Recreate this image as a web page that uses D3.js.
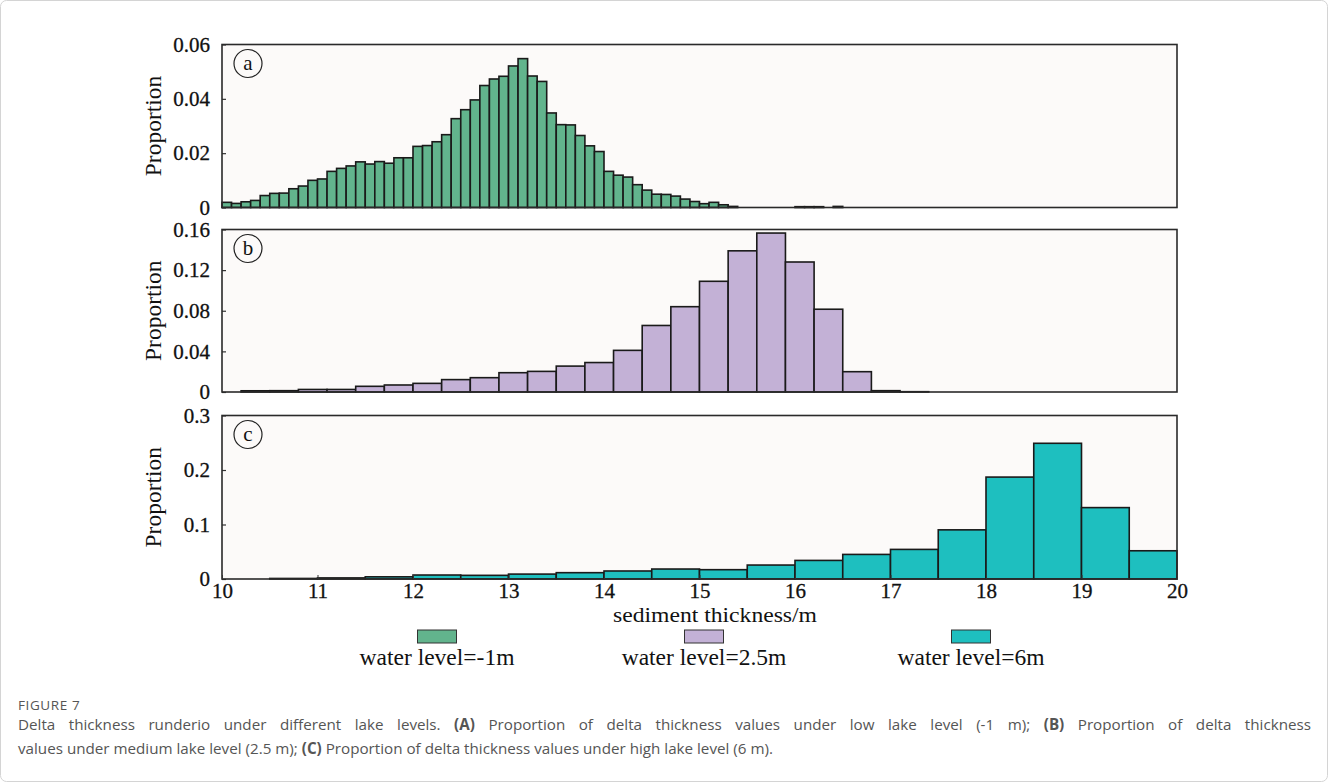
<!DOCTYPE html>
<html>
<head>
<meta charset="utf-8">
<script src="https://cdn.jsdelivr.net/npm/d3@7/dist/d3.min.js"></script>
<style>
  html, body { margin: 0; padding: 0; background: #ffffff; }
  svg { display: block; }
</style>
</head>
<body>
<svg id="fig" width="1328" height="782"></svg>
<script>
// Proportion of delta thickness per bin, water level = -1 m (bins of 0.1 m from 10 m)
const propLow = [
  0.0019, 0.0015, 0.0021, 0.0026, 0.0044, 0.0052, 0.0053, 0.0069, 0.0079, 0.0100,
  0.0105, 0.0133, 0.0144, 0.0153, 0.0168, 0.0160, 0.0169, 0.0163, 0.0183, 0.0183,
  0.0225, 0.0228, 0.0242, 0.0268, 0.0327, 0.0360, 0.0396, 0.0449, 0.0473, 0.0483,
  0.0521, 0.0548, 0.0484, 0.0464, 0.0348, 0.0305, 0.0304, 0.0265, 0.0227, 0.0206,
  0.0133, 0.0119, 0.0112, 0.0084, 0.0064, 0.0049, 0.0048, 0.0042, 0.0031, 0.0022,
  0.0014, 0.0019, 0.0010, 0.0004, 0, 0, 0, 0, 0, 0,
  0.0003, 0.0003, 0.0003, 0, 0.0004, 0, 0, 0, 0, 0,
  0, 0, 0, 0, 0, 0, 0, 0, 0, 0,
  0, 0, 0, 0, 0, 0, 0, 0, 0, 0,
  0, 0, 0, 0, 0, 0, 0, 0, 0, 0
];
const binStartLow = d3.range(propLow.length).map(i => +(10 + i * 0.1).toFixed(1));
const binWidthLow = 0.1;

// water level = 2.5 m (bins of 0.3 m from 10.2 m)
const propMid = [
  0.0012, 0.0013, 0.0025, 0.0025, 0.0056, 0.0069, 0.0085, 0.0122, 0.0141, 0.0190,
  0.0203, 0.0255, 0.0290, 0.0410, 0.0655, 0.0840, 0.1090, 0.1390, 0.1565, 0.1280,
  0.0815, 0.0200, 0.0013, 0.0003
];
const binStartMid = d3.range(propMid.length).map(i => +(10.2 + i * 0.3).toFixed(1));
const binWidthMid = 0.3;

// water level = 6 m (bins of 0.5 m from 10 m)
const propHigh = [
  0, 0.0010, 0.0020, 0.0040, 0.0073, 0.0067, 0.0090, 0.0116, 0.0147, 0.0183,
  0.0171, 0.0256, 0.0341, 0.0451, 0.0543, 0.0902, 0.1870, 0.2490, 0.1310, 0.0518
];
const binStartHigh = d3.range(propHigh.length).map(i => +(10 + i * 0.5).toFixed(1));
const binWidthHigh = 0.5;

const xTicks = [10, 11, 12, 13, 14, 15, 16, 17, 18, 19, 20];
const yTicksLow = [0, 0.02, 0.04, 0.06];
const yTicksMid = [0, 0.04, 0.08, 0.12, 0.16];
const yTicksHigh = [0, 0.1, 0.2, 0.3];
const yTickLabelsLow = ["0", "0.02", "0.04", "0.06"];
const yTickLabelsMid = ["0", "0.04", "0.08", "0.12", "0.16"];
const yTickLabelsHigh = ["0", "0.1", "0.2", "0.3"];

const seriesNames = ["water level=-1m", "water level=2.5m", "water level=6m"];
const seriesColors = ["#62b48d", "#c3b1d6", "#1ebfbf"];
const panelLetters = ["a", "b", "c"];

const svg = d3.select("#fig");
const serif = "'Liberation Serif', 'Times New Roman', serif";
const sans = "'Open Sans', 'Noto Sans', sans-serif";

// outer frame
svg.append("rect")
  .attr("x", 0.5).attr("y", 0.5).attr("width", 1327).attr("height", 781)
  .attr("rx", 6).attr("fill", "#ffffff").attr("stroke", "#d4d4d4");

const x = d3.scaleLinear().domain([10, 20]).range([222, 1177]);

const panels = [
  { starts: binStartLow, width: binWidthLow, values: propLow, ticks: yTicksLow, labels: yTickLabelsLow, top: 44.5, bottom: 207.5 },
  { starts: binStartMid, width: binWidthMid, values: propMid, ticks: yTicksMid, labels: yTickLabelsMid, top: 229.5, bottom: 392 },
  { starts: binStartHigh, width: binWidthHigh, values: propHigh, ticks: yTicksHigh, labels: yTickLabelsHigh, top: 415.5, bottom: 579 }
];

panels.forEach((p, i) => {
  const y = d3.scaleLinear()
    .domain([0, p.ticks[p.ticks.length - 1]])
    .range([p.bottom, p.top]);
  const g = svg.append("g");

  // plot background
  g.append("rect")
    .attr("x", x(10)).attr("y", p.top)
    .attr("width", x(20) - x(10)).attr("height", p.bottom - p.top)
    .attr("fill", "#fcfaf9");

  // histogram bars
  g.append("g").selectAll("rect")
    .data(p.values.map((v, k) => ({ x0: p.starts[k], x1: p.starts[k] + p.width, v })))
    .join("rect")
    .attr("x", d => x(d.x0))
    .attr("y", d => y(d.v))
    .attr("width", d => x(Math.min(d.x1, 20)) - x(d.x0))
    .attr("height", d => y(0) - y(d.v))
    .attr("fill", seriesColors[i])
    .attr("stroke", "#1a1a1a")
    .attr("stroke-width", 1.6);

  // left axis with inward ticks
  const yAxis = d3.axisLeft(y)
    .tickValues(p.ticks)
    .tickSizeInner(-4)
    .tickSizeOuter(0)
    .tickPadding(12)
    .tickFormat((d, k) => p.labels[k]);
  const ya = g.append("g").attr("transform", `translate(${x(10)},0)`).call(yAxis);
  ya.select(".domain").remove();
  ya.selectAll(".tick line").attr("stroke", "#333").attr("stroke-width", 1.2);
  ya.selectAll(".tick text")
    .attr("font-family", serif).attr("font-size", 21).attr("fill", "#111")
    .attr("stroke", "#111").attr("stroke-width", 0.3);

  // frame
  g.append("rect")
    .attr("x", x(10)).attr("y", p.top)
    .attr("width", x(20) - x(10)).attr("height", p.bottom - p.top)
    .attr("fill", "none").attr("stroke", "#2a2a2a").attr("stroke-width", 1.6);

  // y title
  const midY = (p.top + p.bottom) / 2;
  g.append("text")
    .attr("transform", `translate(161,${midY}) rotate(-90)`)
    .attr("text-anchor", "middle")
    .attr("font-family", serif).attr("font-size", 23.5).attr("fill", "#111")
    .text("Proportion");

  // panel letter in a circle
  g.append("circle")
    .attr("cx", 248).attr("cy", p.top + 19).attr("r", 14)
    .attr("fill", "none").attr("stroke", "#222").attr("stroke-width", 1.2);
  g.append("text")
    .attr("x", 248).attr("y", p.top + 25.5)
    .attr("text-anchor", "middle")
    .attr("font-family", serif).attr("font-size", 21).attr("fill", "#111")
    .text(panelLetters[i]);

  // bottom axis on the last panel
  if (i === panels.length - 1) {
    const xAxis = d3.axisBottom(x)
      .tickValues(xTicks)
      .tickSizeInner(-4)
      .tickSizeOuter(0)
      .tickPadding(4)
      .tickFormat(d3.format("d"));
    const xa = g.append("g").attr("transform", `translate(0,${p.bottom})`).call(xAxis);
    xa.select(".domain").remove();
    xa.selectAll(".tick line").attr("stroke", "#333");
    xa.selectAll(".tick text")
      .attr("font-family", serif).attr("font-size", 21).attr("fill", "#111")
      .attr("stroke", "#111").attr("stroke-width", 0.3);
  }
});

// x title
svg.append("text")
  .attr("x", 715).attr("y", 622)
  .attr("text-anchor", "middle")
  .attr("font-family", serif).attr("font-size", 21.5).attr("fill", "#111")
  .attr("textLength", 204).attr("lengthAdjust", "spacingAndGlyphs")
  .text("sediment thickness/m");

// legend
const legendX = [437, 704, 971];
const lg = svg.append("g");
lg.selectAll("rect")
  .data(seriesNames)
  .join("rect")
  .attr("x", (d, k) => legendX[k] - 19.5)
  .attr("y", 630)
  .attr("width", 39).attr("height", 13)
  .attr("fill", (d, k) => seriesColors[k])
  .attr("stroke", "#333").attr("stroke-width", 1);
lg.selectAll("text")
  .data(seriesNames)
  .join("text")
  .attr("x", (d, k) => legendX[k])
  .attr("y", 665)
  .attr("text-anchor", "middle")
  .attr("font-family", serif).attr("font-size", 23.5).attr("fill", "#111")
  .text(d => d);

// caption
svg.append("text")
  .attr("x", 18).attr("y", 710)
  .attr("font-family", sans).attr("font-size", 13.5).attr("fill", "#555")
  .attr("letter-spacing", 0.6)
  .text("FIGURE 7");

const captionLines = [
  [
    ["Delta thickness runderio under different lake levels. ", false],
    ["(A)", true],
    [" Proportion of delta thickness values under low lake level (-1 m); ", false],
    ["(B)", true],
    [" Proportion of delta thickness", false]
  ],
  [
    ["values under medium lake level (2.5 m); ", false],
    ["(C)", true],
    [" Proportion of delta thickness values under high lake level (6 m).", false]
  ]
];
const captionRight = 1311;
captionLines.forEach((line, li) => {
  const t = svg.append("text")
    .attr("x", 18).attr("y", 730 + li * 24)
    .attr("font-family", sans).attr("font-size", 15.2).attr("fill", "#555");
  line.forEach(([s, b]) => {
    t.append("tspan").attr("font-weight", b ? 700 : 400).text(s);
  });
  // justify every line except the last
  if (li < captionLines.length - 1) {
    const natural = t.node().getComputedTextLength();
    const spaces = line.map(d => d[0]).join("").split(" ").length - 1;
    const extra = (captionRight - 18 - natural) / spaces;
    if (extra > 0) t.attr("word-spacing", extra);
  }
});
</script>
</body>
</html>
